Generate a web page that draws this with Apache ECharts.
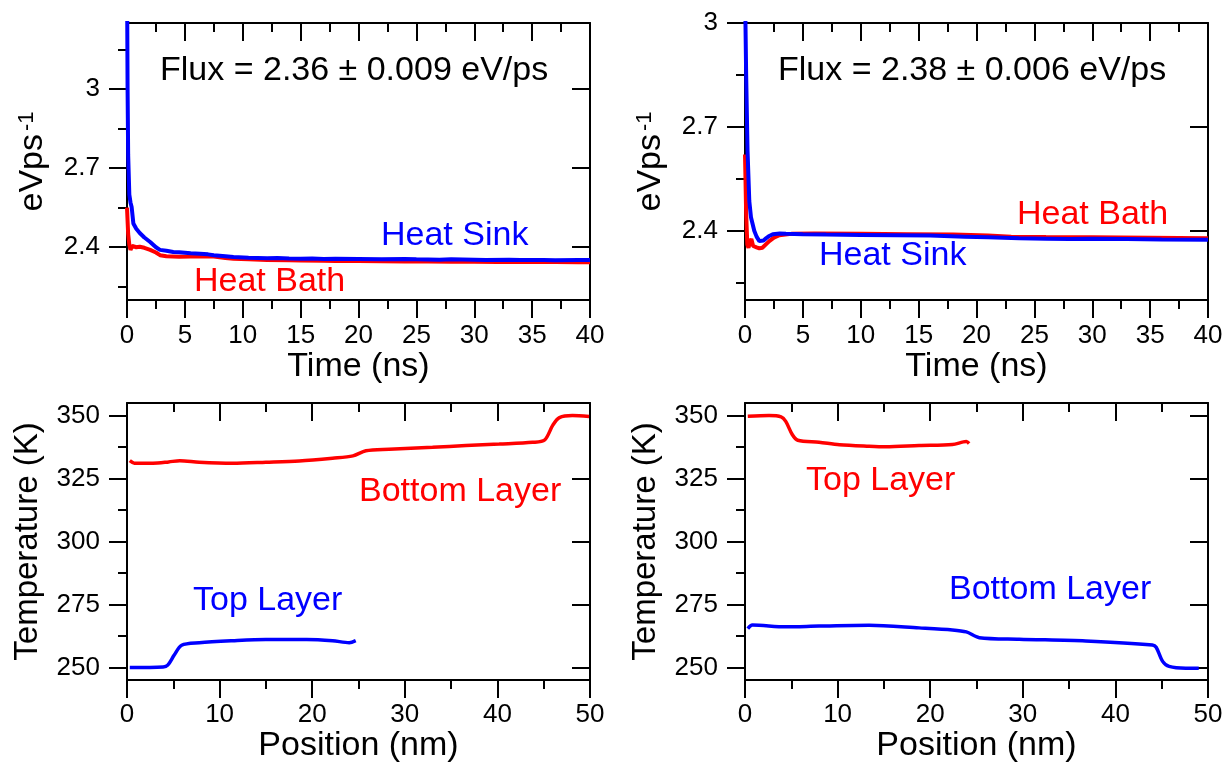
<!DOCTYPE html>
<html>
<head>
<meta charset="utf-8">
<script src="https://cdn.jsdelivr.net/npm/echarts@6/dist/echarts.min.js"></script>
<style>html,body{margin:0;padding:0;background:#fff}#chart{width:1229px;height:765px}</style>
</head>
<body>
<div id="chart"></div>
<script>
// ---------- DATA ----------
// Top-left panel (Time, ns  vs  eV/ps)
const tlSinkT = [0, 0.05, 0.1, 0.2, 0.3, 0.4, 0.55, 0.8, 1.1, 1.5, 2.0, 2.5, 2.85, 3.4, 4.0, 4.5, 5.5, 6.3, 7.0, 7.5, 8.5, 9.2, 10.5, 12.1, 13, 14, 15, 16, 17, 18, 20, 22, 24, 25, 27, 28, 30, 31, 33, 34, 36, 37, 39, 40];
const tlSinkV = [3.45, 3.0, 2.75, 2.6, 2.57, 2.553, 2.49, 2.47, 2.454, 2.437, 2.42, 2.40, 2.39, 2.387, 2.382, 2.381, 2.377, 2.375, 2.373, 2.370, 2.366, 2.363, 2.36, 2.358, 2.359, 2.357, 2.356, 2.357, 2.355, 2.356, 2.355, 2.354, 2.355, 2.354, 2.353, 2.354, 2.353, 2.352, 2.353, 2.352, 2.352, 2.351, 2.352, 2.352];
const tlBathT = [0, 0.1, 0.2, 0.3, 0.45, 0.6, 0.8, 1.1, 1.5, 2.0, 2.5, 2.85, 3.4, 4.5, 5.5, 6.3, 7.5, 8.5, 9.2, 10.5, 12.1, 14, 15, 17, 18, 20, 22, 24, 26, 28, 30, 32, 34, 36, 37, 39, 40];
const tlBathV = [2.55, 2.45, 2.41, 2.39, 2.405, 2.41, 2.40, 2.402, 2.398, 2.39, 2.38, 2.37, 2.366, 2.364, 2.365, 2.366, 2.365, 2.359, 2.356, 2.354, 2.352, 2.351, 2.350, 2.349, 2.348, 2.348, 2.347, 2.346, 2.346, 2.345, 2.345, 2.344, 2.345, 2.344, 2.344, 2.343, 2.343];

// Top-right panel
const trSinkT = [0, 0.1, 0.22, 0.37, 0.52, 0.8, 1.0, 1.24, 1.38, 1.6, 1.81, 2.1, 2.4, 3.0, 3.54, 5, 7, 10, 13, 16, 19, 21, 23.7, 26, 28, 30, 33, 36, 40];
const trSinkV = [3.1, 2.85, 2.63, 2.486, 2.438, 2.40, 2.383, 2.37, 2.367, 2.372, 2.378, 2.385, 2.39, 2.392, 2.391, 2.39, 2.389, 2.388, 2.387, 2.386, 2.383, 2.381, 2.378, 2.377, 2.376, 2.377, 2.376, 2.375, 2.374];
const trBathT = [0, 0.1, 0.2, 0.3, 0.45, 0.55, 0.7, 1.0, 1.24, 1.5, 1.67, 2.1, 2.5, 2.97, 4, 6, 10, 14, 18, 21, 23, 26, 30, 35, 40];
const trBathV = [2.62, 2.45, 2.36, 2.351, 2.37, 2.376, 2.356, 2.352, 2.349, 2.351, 2.353, 2.37, 2.38, 2.387, 2.391, 2.392, 2.391, 2.39, 2.389, 2.386, 2.383, 2.382, 2.381, 2.380, 2.378];

// Bottom-left panel (Position, nm  vs  Temperature, K)
const blBottomX = [0.3, 0.8, 2.8, 4.5, 5.7, 7.8, 11.4, 15, 18.6, 22.2, 24.4, 25.8, 28.3, 33, 36.6, 40.2, 43.8, 45.1, 46, 46.7, 48.1, 49.9];
const blBottomY = [332.1, 331.1, 331.1, 331.6, 332.1, 331.5, 331.1, 331.5, 332.0, 333.1, 334.0, 336.0, 336.6, 337.4, 338.1, 338.7, 339.4, 340.3, 346.3, 349.2, 350.0, 349.6];
const blTopX = [0.3, 3.9, 4.4, 5.1, 5.9, 7.8, 11.4, 15, 19.4, 22.2, 24, 24.7];
const blTopY = [250.0, 250.2, 250.9, 254.9, 258.8, 259.8, 260.6, 261.1, 261.1, 260.6, 259.8, 260.6];

// Bottom-right panel
const brTopX = [0.3, 2.6, 3.9, 4.4, 5.1, 5.7, 8, 10.2, 13.4, 15.2, 18.8, 22.4, 23.9, 24.2];
const brTopY = [349.7, 350.0, 349.5, 347.7, 342.5, 340.2, 339.4, 338.4, 337.8, 337.6, 338.1, 338.5, 339.7, 338.9];
const brBottomX = [0.3, 0.8, 4.4, 8, 13.4, 18.8, 22.4, 23.9, 25.3, 29.6, 36.8, 44, 44.4, 45.1, 45.8, 47.6, 49];
const brBottomY = [265.4, 266.8, 266.1, 266.4, 266.7, 265.7, 264.9, 264.1, 261.8, 261.2, 260.5, 258.9, 258.0, 252.4, 250.4, 249.7, 249.7];

// Tick values
const fluxTicksTL = [2.4, 2.7, 3];
const fluxMinorTL = [2.25, 2.55, 2.85, 3.15];
const fluxTicksTR = [2.4, 2.7, 3];
const fluxMinorTR = [2.25, 2.55, 2.85];
const tempTicks = [250, 275, 300, 325, 350];
const tempMinor = [262.5, 287.5, 312.5, 337.5];

// Texts
const fluxTextTL = 'Flux = 2.36 \u00B1 0.009 eV/ps';
const fluxTextTR = 'Flux = 2.38 \u00B1 0.006 eV/ps';

// ---------- CHART ----------
const FONT = '"Liberation Sans", Arial, Helvetica, sans-serif';
const RED = '#ff0000', BLUE = '#0000ff';
const zip = (a, b) => a.map((v, i) => [v, b[i]]);

const grids = [
  { left: 127, top: 23, width: 463, height: 277 },
  { left: 745, top: 23, width: 463, height: 277 },
  { left: 127, top: 403, width: 463, height: 277 },
  { left: 745, top: 403, width: 463, height: 277 }
];

const lineSt = { color: '#000', width: 2 };

function xAxes(gi, min, max, interval, name, margin, nameGap) {
  const common = { gridIndex: gi, type: 'value', min, max, interval,
    splitLine: { show: false }, minorSplitLine: { show: false } };
  return [
    Object.assign({}, common, {
      position: 'bottom',
      axisLine: { show: true, onZero: false, lineStyle: lineSt },
      axisTick: { show: true, inside: false, length: 18, lineStyle: lineSt },
      minorTick: { show: true, splitNumber: 2, length: 9, lineStyle: lineSt },
      axisLabel: { show: true, margin, fontSize: 26, color: '#000', fontFamily: FONT, showMinLabel: true, showMaxLabel: true },
      name, nameLocation: 'middle', nameGap,
      nameTextStyle: { fontSize: 34, color: '#000', fontFamily: FONT }
    }),
    Object.assign({}, common, {
      position: 'top',
      axisLine: { show: true, onZero: false, lineStyle: lineSt },
      axisTick: { show: true, inside: true, length: 18, lineStyle: lineSt },
      minorTick: { show: true, splitNumber: 2, length: 9, lineStyle: lineSt },
      axisLabel: { show: false }
    })
  ];
}

function yAxes(gi, min, max, major, minor, name, nameGap, nameTextStyle) {
  const common = { gridIndex: gi, type: 'value', min, max,
    splitLine: { show: false }, minorSplitLine: { show: false } };
  return [
    Object.assign({}, common, {
      position: 'left',
      axisLine: { show: true, onZero: false, lineStyle: lineSt },
      axisTick: { show: true, inside: false, length: 18, customValues: major, lineStyle: lineSt },
      axisLabel: { show: true, customValues: major, margin: 27, fontSize: 26, color: '#000', fontFamily: FONT },
      name, nameLocation: 'middle', nameGap, nameTextStyle
    }),
    Object.assign({}, common, {
      position: 'left',
      axisLine: { show: false },
      axisTick: { show: true, inside: false, length: 9, customValues: minor, lineStyle: lineSt },
      axisLabel: { show: false }
    }),
    Object.assign({}, common, {
      position: 'right',
      axisLine: { show: true, onZero: false, lineStyle: lineSt },
      axisTick: { show: true, inside: true, length: 18, customValues: major, lineStyle: lineSt },
      axisLabel: { show: false }
    }),
    Object.assign({}, common, {
      position: 'right',
      axisLine: { show: false },
      axisTick: { show: true, inside: true, length: 9, customValues: minor, lineStyle: lineSt },
      axisLabel: { show: false }
    })
  ];
}

const fluxName = '{b|eVps}{s|-1}';
const fluxNameStyle = {
  color: '#000', fontFamily: FONT,
  rich: {
    b: { fontSize: 34, fontFamily: FONT, color: '#000', lineHeight: 34, verticalAlign: 'bottom' },
    s: { fontSize: 22, fontFamily: FONT, color: '#000', lineHeight: 22, verticalAlign: 'top', padding: [0, 0, 22, 3] }
  }
};
const tempNameStyle = { fontSize: 33, color: '#000', fontFamily: FONT };

const xAxis = [].concat(
  xAxes(0, 0, 40, 5, 'Time (ns)', 23, 46),
  xAxes(1, 0, 40, 5, 'Time (ns)', 23, 46),
  xAxes(2, 0, 50, 10, 'Position (nm)', 22, 47),
  xAxes(3, 0, 50, 10, 'Position (nm)', 22, 47)
);
const yAxis = [].concat(
  yAxes(0, 2.2, 3.25, fluxTicksTL, fluxMinorTL, fluxName, 70, fluxNameStyle),
  yAxes(1, 2.2, 3.0, fluxTicksTR, fluxMinorTR, fluxName, 70, fluxNameStyle),
  yAxes(2, 245, 355, tempTicks, tempMinor, 'Temperature (K)', 83, tempNameStyle),
  yAxes(3, 245, 355, tempTicks, tempMinor, 'Temperature (K)', 83, tempNameStyle)
);

function line(g, x, y, color, smooth, width) {
  return { type: 'line', xAxisIndex: 2 * g, yAxisIndex: 4 * g, data: zip(x, y),
    showSymbol: false, symbol: 'none', smooth: smooth || false, clip: true,
    lineStyle: { color, width: width || 3.5 }, itemStyle: { color }, silent: true };
}

const series = [
  line(0, tlBathT, tlBathV, RED, false, 4),
  line(0, tlSinkT, tlSinkV, BLUE, false, 4),
  line(1, trBathT, trBathV, RED, false, 4),
  line(1, trSinkT, trSinkV, BLUE, false, 4),
  line(2, blBottomX, blBottomY, RED, 0.3),
  line(2, blTopX, blTopY, BLUE, 0.3),
  line(3, brTopX, brTopY, RED, 0.3),
  line(3, brBottomX, brBottomY, BLUE, 0.3)
];

function txt(left, top, text, fill) {
  return { type: 'text', left, top, silent: true,
    style: { text, fill, font: '34px ' + FONT } };
}

const graphic = [
  txt(160, 54, fluxTextTL, '#000'),
  txt(381, 219, 'Heat Sink', BLUE),
  txt(194, 265, 'Heat Bath', RED),
  txt(778, 54, fluxTextTR, '#000'),
  txt(1017, 198, 'Heat Bath', RED),
  txt(819, 239, 'Heat Sink', BLUE),
  txt(359, 475, 'Bottom Layer', RED),
  txt(193, 584, 'Top Layer', BLUE),
  txt(806, 464, 'Top Layer', RED),
  txt(949, 573, 'Bottom Layer', BLUE)
];

const chart = echarts.init(document.getElementById('chart'), null, { renderer: 'canvas' });
chart.setOption({
  animation: false,
  backgroundColor: '#fff',
  textStyle: { fontFamily: FONT },
  grid: grids,
  xAxis, yAxis, series, graphic
});
</script>
</body>
</html>
